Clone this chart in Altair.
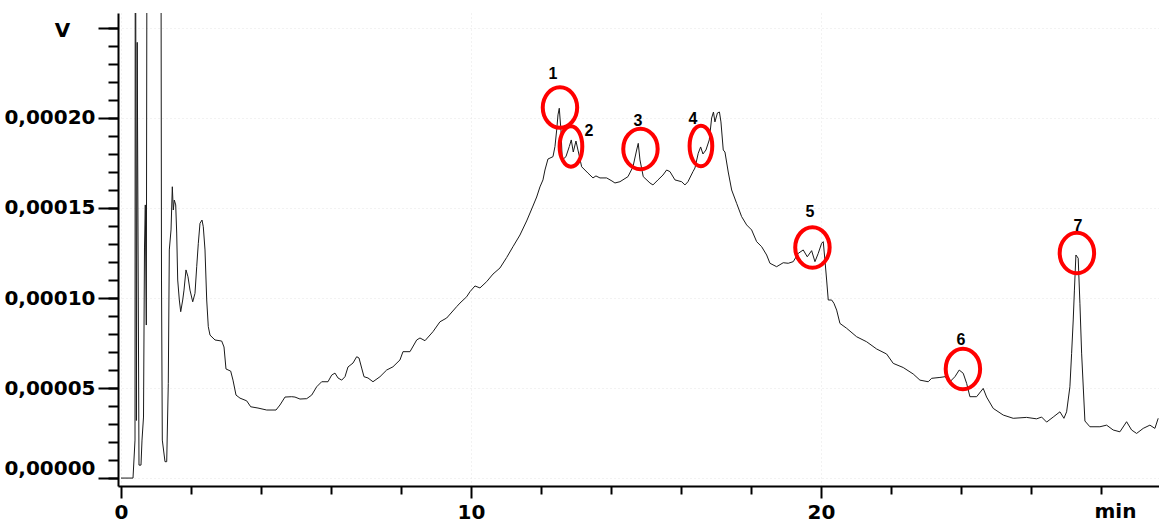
import altair as alt
import pandas as pd

# Chromatogram trace: retention time (min) and detector signal (µV)
time_min = [
    0.000, 0.343, 0.400, 0.409, 0.440, 0.463, 0.514, 0.571, 0.600, 0.643,
    0.671, 0.694, 0.723, 0.751, 0.943, 1.134, 1.157, 1.180, 1.257, 1.306,
    1.351, 1.380, 1.429, 1.466, 1.494, 1.523, 1.563, 1.591, 1.620, 1.666,
    1.706, 1.763, 1.800, 1.857, 1.914, 1.971, 2.049, 2.114, 2.163, 2.209,
    2.257, 2.314, 2.351, 2.400, 2.449, 2.494, 2.543, 2.686, 2.877, 2.943,
    3.000, 3.134, 3.200, 3.286, 3.400, 3.591, 3.706, 3.914, 4.163, 4.429,
    4.543, 4.686, 4.877, 4.971, 5.114, 5.306, 5.449, 5.591, 5.734, 5.914,
    6.020, 6.114, 6.200, 6.306, 6.400, 6.486, 6.629, 6.734, 6.800, 6.877,
    6.943, 7.057, 7.200, 7.400, 7.591, 7.771, 7.971, 8.057, 8.257, 8.449,
    8.543, 8.686, 8.914, 9.114, 9.306, 9.591, 9.686, 9.877, 9.971, 10.114,
    10.257, 10.449, 10.629, 10.829, 11.020, 11.200, 11.400, 11.591, 11.771, 11.877,
    11.971, 12.057, 12.114, 12.200, 12.343, 12.400, 12.449, 12.486, 12.523, 12.571,
    12.609, 12.714, 12.809, 12.866, 12.923, 13.000, 13.057, 13.163, 13.343, 13.486,
    13.571, 13.686, 13.877, 14.029, 14.114, 14.257, 14.486, 14.629, 14.734, 14.780,
    14.829, 14.923, 15.114, 15.200, 15.343, 15.486, 15.591, 15.686, 15.829, 16.020,
    16.114, 16.200, 16.343, 16.400, 16.494, 16.563, 16.629, 16.714, 16.809, 16.877,
    16.929, 16.971, 17.043, 17.100, 17.143, 17.209, 17.257, 17.351, 17.449, 17.591,
    17.734, 17.877, 18.020, 18.163, 18.306, 18.449, 18.543, 18.734, 18.923, 19.066,
    19.209, 19.351, 19.494, 19.609, 19.734, 19.829, 19.923, 20.020, 20.066, 20.114,
    20.163, 20.209, 20.306, 20.371, 20.449, 20.543, 20.734, 21.020, 21.306, 21.591,
    21.877, 22.066, 22.351, 22.637, 22.829, 23.066, 23.163, 23.400, 23.543, 23.686,
    23.829, 23.951, 24.066, 24.163, 24.257, 24.449, 24.637, 24.734, 24.923, 25.209,
    25.494, 25.877, 26.163, 26.306, 26.449, 26.637, 26.829, 26.943, 27.020, 27.114,
    27.163, 27.209, 27.243, 27.286, 27.351, 27.400, 27.449, 27.543, 27.686, 27.971,
    28.163, 28.351, 28.543, 28.734, 28.877, 29.020, 29.209, 29.400, 29.543, 29.637,
]
signal_uv = [
    0.0, 0.0, 21.1, 420.0, 32.0, 242.0, 7.2, 7.2, 21.1, 33.9,
    127.8, 151.7, 85.0, 420.0, 500.0, 420.0, 110.0, 21.1, 9.1, 9.1,
    52.6, 126.7, 137.8, 161.8, 148.9, 154.4, 151.7, 136.1, 110.0, 98.9,
    92.4, 98.9, 104.4, 115.6, 111.8, 104.4, 97.9, 102.6, 117.4, 130.4,
    141.5, 143.3, 139.6, 126.7, 98.9, 84.1, 79.4, 76.7, 76.1, 72.8,
    60.6, 59.4, 54.4, 46.1, 44.4, 42.9, 39.6, 38.9, 37.8, 37.8,
    40.6, 45.0, 45.2, 45.0, 43.9, 44.1, 46.1, 50.7, 53.5, 53.5,
    57.2, 58.3, 55.6, 54.4, 56.3, 61.7, 63.9, 67.4, 66.7, 61.1,
    56.3, 55.6, 53.5, 56.3, 60.0, 61.8, 65.6, 70.2, 70.2, 76.7,
    77.8, 76.3, 81.3, 86.8, 88.9, 95.2, 97.2, 100.7, 103.5, 106.7,
    105.6, 109.1, 113.3, 116.7, 122.5, 128.5, 135.0, 142.8, 151.1, 156.1,
    161.7, 165.6, 171.1, 177.2, 178.5, 184.1, 193.3, 201.7, 205.4, 193.3,
    176.7, 178.5, 184.1, 187.8, 181.1, 187.2, 182.2, 172.9, 169.4, 166.7,
    167.8, 166.7, 166.7, 165.0, 163.9, 164.6, 167.4, 172.9, 182.2, 185.9,
    176.7, 167.4, 163.9, 162.8, 165.6, 168.3, 171.1, 170.2, 165.6, 164.6,
    162.8, 164.6, 170.2, 172.2, 180.4, 183.9, 180.0, 182.2, 187.8, 200.0,
    203.3, 197.8, 202.8, 203.3, 197.8, 182.2, 181.1, 170.0, 160.0, 152.6,
    145.2, 140.6, 137.8, 131.3, 128.5, 123.9, 119.3, 117.4, 119.6, 119.3,
    120.2, 124.8, 126.7, 122.9, 126.3, 120.2, 124.8, 130.4, 131.3, 121.1,
    110.0, 98.9, 98.9, 97.1, 93.3, 85.9, 83.2, 78.5, 75.7, 71.7,
    68.9, 63.7, 61.4, 57.8, 54.4, 53.5, 55.4, 55.9, 56.3, 53.5,
    56.3, 60.0, 58.2, 52.6, 45.2, 45.2, 49.8, 45.0, 38.7, 35.0,
    33.2, 33.7, 32.9, 33.9, 31.1, 33.9, 36.8, 33.2, 36.8, 50.7,
    69.3, 87.8, 104.4, 123.9, 122.1, 97.1, 69.4, 31.7, 28.5, 28.5,
    29.4, 26.7, 25.7, 31.3, 26.7, 24.8, 27.6, 29.4, 27.6, 33.2,
]

# Marked peaks: ring centre, ring form and number position
peak_names = ["1", "2", "3", "4", "5", "6", "7"]
peak_time = [12.543, 12.857, 14.843, 16.571, 19.757, 24.057, 27.314]
peak_uv = [205.8, 184.2, 182.8, 184.4, 128.1, 60.6, 125.0]
peak_form = ["wide", "narrow", "wide", "narrow", "wide", "wide", "wide"]
number_time = [12.343, 13.371, 14.771, 16.343, 19.686, 24.000, 27.343]
number_uv = [224.5, 193.0, 198.5, 199.5, 148.0, 76.5, 140.0]

# Axis ticks (V and min)
y_major_ticks = [0.0, 0.00005, 0.00010, 0.00015, 0.00020, 0.00025]
y_minor_ticks = [i * 0.00001 for i in range(26)]
x_major_ticks = [0, 10, 20]
x_minor_ticks = [2, 4, 6, 8, 12, 14, 16, 18, 22, 24, 26, 28]

trace = pd.DataFrame({"t": time_min, "v": [u * 1e-6 for u in signal_uv]})
peaks = pd.DataFrame({
    "name": peak_names,
    "pt": peak_time,
    "pv": [u * 1e-6 for u in peak_uv],
    "form": peak_form,
    "lt": number_time,
    "lv": [u * 1e-6 for u in number_uv],
})

FONT = "DejaVu Sans"
ELLIPSE_WIDE = "M -0.85 0 A 0.85 1 0 1 1 0.85 0 A 0.85 1 0 1 1 -0.85 0 Z"
ELLIPSE_NARROW = "M -0.56 0 A 0.56 1 0 1 1 0.56 0 A 0.56 1 0 1 1 -0.56 0 Z"

x_scale = alt.Scale(domain=[-0.086, 29.66], nice=False, zero=False)
y_scale = alt.Scale(domain=[-0.0000044, 0.0002583], nice=False, zero=False)

y_major = alt.Axis(
    orient="left",
    values=y_major_ticks,
    labelExpr="datum.value > 0.00021 ? '' : replace(format(datum.value, '.5f'), '.', ',')",
    labelBaseline={"condition": {"test": "datum.value == 0", "value": "bottom"}, "value": "middle"},
    labelFont=FONT, labelFontSize=20, labelFontWeight="bold", labelColor="black",
    labelPadding=3, labelOverlap=False, labelFlush=False,
    tickSize=20, tickWidth=2, tickColor="black",
    domainColor="black", domainWidth=2,
    grid=True, gridColor="#e4e4e4", gridDash=[1, 3], gridWidth=1,
    title="V", titleAngle=0, titleX=-56, titleY=17, titleAlign="center",
    titleBaseline="middle", titleFont=FONT, titleFontSize=20,
    titleFontWeight="bold", titleColor="black",
)
y_minor = alt.Axis(
    orient="left", values=y_minor_ticks, labels=False, domain=False, grid=False,
    tickSize=10, tickWidth=2, tickColor="black", title=None,
)
x_major = alt.Axis(
    orient="bottom",
    values=x_major_ticks,
    format="d",
    labelFont=FONT, labelFontSize=20, labelFontWeight="bold", labelColor="black",
    labelPadding=4, labelOverlap=False, labelFlush=False,
    tickSize=12, tickWidth=2, tickColor="black",
    domainColor="black", domainWidth=2,
    grid=True, gridColor="#e4e4e4", gridDash=[1, 3], gridWidth=1,
    title="min", titleX=997, titleY=25, titleAlign="center", titleBaseline="middle",
    titleFont=FONT, titleFontSize=20, titleFontWeight="bold", titleColor="black",
)
x_minor = alt.Axis(
    orient="bottom", values=x_minor_ticks, labels=False, domain=False, grid=False,
    tickSize=8, tickWidth=2, tickColor="black", title=None,
)

base = alt.Chart(trace)

minor_axes = base.mark_line(opacity=0, clip=True).encode(
    x=alt.X("t:Q", scale=x_scale, axis=x_minor),
    y=alt.Y("v:Q", scale=y_scale, axis=y_minor),
)

signal = base.mark_line(color="#1a1a1a", strokeWidth=1, clip=True).encode(
    x=alt.X("t:Q", scale=x_scale, axis=x_major),
    y=alt.Y("v:Q", scale=y_scale, axis=y_major),
)

rings = alt.Chart(peaks).mark_point(
    filled=False, size=1640, strokeWidth=4, color="#ff0000", opacity=1
).encode(
    x=alt.X("pt:Q", scale=x_scale, axis=None),
    y=alt.Y("pv:Q", scale=y_scale, axis=None),
    shape=alt.Shape(
        "form:N",
        scale=alt.Scale(domain=["wide", "narrow"], range=[ELLIPSE_WIDE, ELLIPSE_NARROW]),
        legend=None,
    ),
)

numbers = alt.Chart(peaks).mark_text(
    font="Liberation Sans", fontSize=16, fontWeight="bold", color="black",
    align="center", baseline="middle",
).encode(
    x=alt.X("lt:Q", scale=x_scale, axis=None),
    y=alt.Y("lv:Q", scale=y_scale, axis=None),
    text="name:N",
)

chart = (
    alt.layer(minor_axes, signal, rings, numbers)
    .resolve_axis(x="independent", y="independent")
    .properties(
        width=1041,
        height=473,
        autosize=alt.AutoSizeParams(type="none"),
        padding={"left": 118, "top": 13, "right": 0, "bottom": 41},
    )
    .configure(background="white")
    .configure_view(stroke=None)
)

chart.save("out.html", embed_options={"renderer": "svg", "actions": False})
